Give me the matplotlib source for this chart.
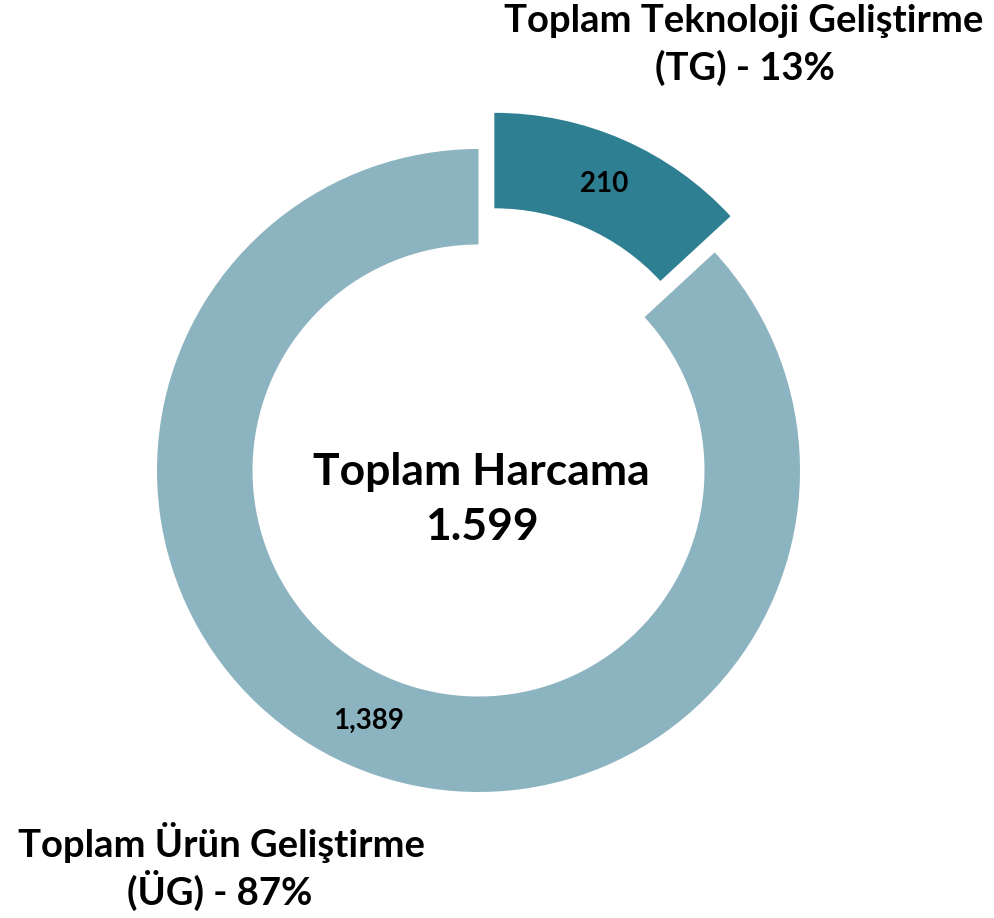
import matplotlib
matplotlib.use("Agg")
import matplotlib.pyplot as plt

# Data
categories = ["Toplam Teknoloji Geliştirme (TG)", "Toplam Ürün Geliştirme (ÜG)"]
values = [210, 1389]
total_label = "1.599"
colors = ["#2E7F91", "#8CB3C0"]

W, H = 994, 918
plt.rcParams['font.family'] = ['Lato', 'DejaVu Sans']

fig = plt.figure(figsize=(W / 100, H / 100), dpi=100)
ax = fig.add_axes([0, 0, 1, 1])
ax.set_xlim(0, W)
ax.set_ylim(0, H)
ax.set_aspect('equal')
ax.axis('off')

cx, cy = 478.5, H - 470.5
R = 321.5
ring = 95.5
offset = 39.5  # explode distance (data units)

def fmt(p):
    v = round(p * sum(values) / 100.0)
    return f"{v:,}"

wedges, texts, autotexts = ax.pie(
    values, colors=colors, startangle=90, counterclock=False,
    explode=[offset, 0], radius=R, center=(cx, cy),
    wedgeprops=dict(width=ring, linewidth=0),
    autopct=fmt, pctdistance=(R - ring / 2) / R,
    textprops=dict(fontsize=20, fontweight='bold', color='black'))
ax.set_xlim(0, W)
ax.set_ylim(0, H)

pcts = [round(100 * v / sum(values)) for v in values]

ax.text(744, H - 32, "Toplam Teknoloji Geliştirme", ha='center', va='baseline',
        fontsize=27.5, fontweight='bold')
ax.text(745, H - 80, f"(TG) - {pcts[0]}%", ha='center', va='baseline',
        fontsize=27.5, fontweight='bold')
ax.text(221, H - 857, "Toplam Ürün Geliştirme", ha='center', va='baseline',
        fontsize=27.5, fontweight='bold')
ax.text(220, H - 905, f"(ÜG) - {pcts[1]}%", ha='center', va='baseline',
        fontsize=27.5, fontweight='bold')

ax.text(481, H - 485, "Toplam Harcama", ha='center', va='baseline',
        fontsize=32, fontweight='bold')
ax.text(482, H - 540, total_label, ha='center', va='baseline',
        fontsize=32, fontweight='bold')

fig.savefig("out.png", dpi=100)
